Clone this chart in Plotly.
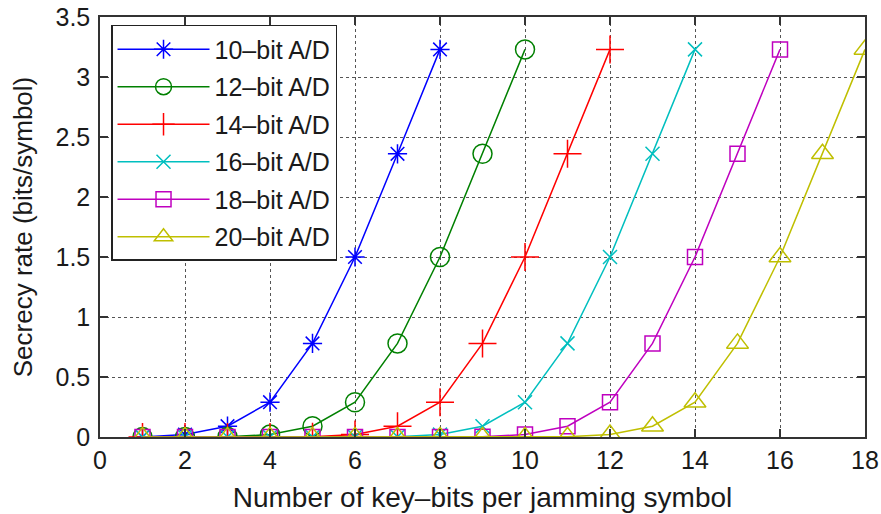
import plotly.graph_objects as go

names = ["10–bit A/D", "12–bit A/D", "14–bit A/D", "16–bit A/D", "18–bit A/D", "20–bit A/D"]
x10 = [1, 2, 3, 4, 5, 6, 7, 8]
y10 = [0.0, 0.02, 0.09, 0.29, 0.78, 1.5, 2.36, 3.23]
x12 = [1, 2, 3, 4, 5, 6, 7, 8, 9, 10]
y12 = [0.0, 0.0, 0.002, 0.02, 0.09, 0.29, 0.78, 1.5, 2.36, 3.23]
x14 = [1, 2, 3, 4, 5, 6, 7, 8, 9, 10, 11, 12]
y14 = [0.0, 0.0, 0.0, 0.0, 0.002, 0.02, 0.09, 0.29, 0.78, 1.5, 2.36, 3.23]
x16 = [1, 2, 3, 4, 5, 6, 7, 8, 9, 10, 11, 12, 13, 14]
y16 = [0.0, 0.0, 0.0, 0.0, 0.0, 0.0, 0.002, 0.02, 0.09, 0.29, 0.78, 1.5, 2.36, 3.23]
x18 = [1, 2, 3, 4, 5, 6, 7, 8, 9, 10, 11, 12, 13, 14, 15, 16]
y18 = [0.0, 0.0, 0.0, 0.0, 0.0, 0.0, 0.0, 0.0, 0.002, 0.02, 0.09, 0.29, 0.78, 1.5, 2.36, 3.23]
x20 = [1, 2, 3, 4, 5, 6, 7, 8, 9, 10, 11, 12, 13, 14, 15, 16, 17, 18]
y20 = [0.0, 0.0, 0.0, 0.0, 0.0, 0.0, 0.0, 0.0, 0.0, 0.0, 0.002, 0.02, 0.09, 0.29, 0.78, 1.5, 2.36, 3.23]

xs = [x10, x12, x14, x16, x18, x20]
ys = [y10, y12, y14, y16, y18, y20]
colors = ["#0000ff", "#008000", "#ff0000", "#00bfbf", "#bf00bf", "#bfbf00"]
symbols = ["asterisk-open", "circle-open", "cross-thin-open", "x-thin-open", "square-open", "triangle-up-open"]
sizes = [16, 19, 20, 14, 15, 19]

x_ticks = [0, 2, 4, 6, 8, 10, 12, 14, 16, 18]
y_ticks = [0, 0.5, 1, 1.5, 2, 2.5, 3, 3.5]
y_ticklabels = ["0", "0.5", "1", "1.5", "2", "2.5", "3", "3.5"]

fig = go.Figure()
for n, x, y, c, s, sz in zip(names, xs, ys, colors, symbols, sizes):
    fig.add_trace(go.Scatter(
        x=x, y=y, name=n, legendgroup=n, mode="lines+markers",
        line=dict(color=c, width=1.5),
        marker=dict(symbol=s, size=sz, color=c, line=dict(color=c, width=1.5)),
    ))

FAM = "Liberation Sans, Arial, sans-serif"
tickfont = dict(family=FAM, size=25, color="#1a1a1a")
titlefont = dict(family=FAM, size=26, color="#1a1a1a")
axis_common = dict(
    showline=True, linecolor="#333333", linewidth=1.5, mirror="ticks",
    ticks="inside", ticklen=8, tickcolor="#333333", tickwidth=1.5,
    showgrid=True, gridcolor="#555555", griddash="dot", gridwidth=1,
    zeroline=False, tickfont=tickfont, automargin=False,
)
fig.update_xaxes(range=[0, 18], tickvals=x_ticks,
                 title=dict(text="Number of key–bits per jamming symbol", font=dict(family=FAM, size=28, color="#1a1a1a")),
                 **axis_common)
fig.update_yaxes(range=[0, 3.5], tickvals=y_ticks, ticktext=y_ticklabels, ticklabelstandoff=3,
                 title=dict(text="Secrecy rate (bits/symbol)", font=titlefont),
                 **axis_common)

fig.update_layout(
    width=881, height=514,
    margin=dict(l=100, r=16, t=17, b=77),
    paper_bgcolor="white", plot_bgcolor="white",
    font=tickfont,
    showlegend=True,
    legend=dict(x=0.0144, y=0.981, xanchor="left", yanchor="top",
                bgcolor="white", bordercolor="#222222", borderwidth=1.5,
                font=dict(family=FAM, size=25, color="#1a1a1a"),
                itemwidth=92, tracegroupgap=2),
)
fig.write_html("out.html")
